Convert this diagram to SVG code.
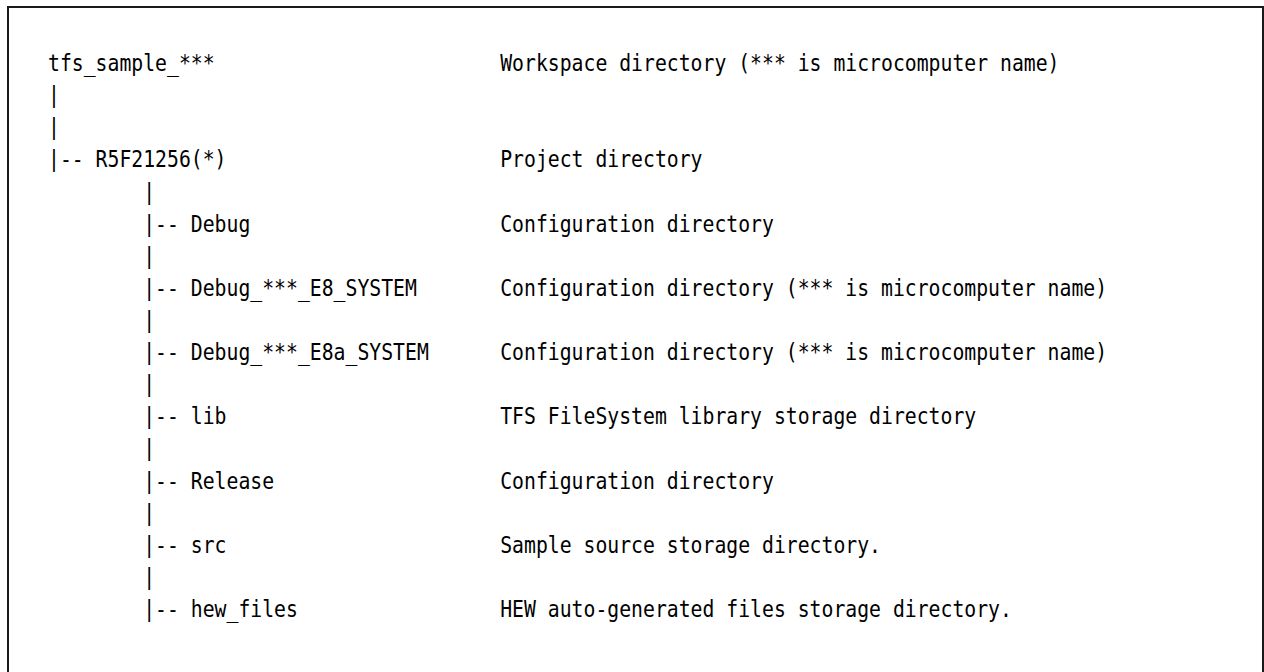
<svg xmlns="http://www.w3.org/2000/svg" width="1264" height="672" viewBox="0 0 1264 672">
<style>
  text { font-family: "DejaVu Sans Mono", "Liberation Mono", monospace; font-size: 23.5px; fill: #000; white-space: pre; }
  .frame { fill: #fff; stroke: #1a1a1a; stroke-width: 2; }
</style>
<rect x="0" y="0" width="1264" height="672" fill="#fff"/>
<rect class="frame" x="8" y="7" width="1255" height="700"/>
<g id="connectors">
  <text x="48" y="103.1" textLength="11.9" lengthAdjust="spacingAndGlyphs">|</text>
  <text x="48" y="135.2" textLength="11.9" lengthAdjust="spacingAndGlyphs">|</text>
  <text x="48" y="167.4" textLength="35.7" lengthAdjust="spacingAndGlyphs">|--</text>
  <text x="143.2" y="199.5" textLength="11.9" lengthAdjust="spacingAndGlyphs">|</text>
  <text x="143.2" y="231.6" textLength="35.7" lengthAdjust="spacingAndGlyphs">|--</text>
  <text x="143.2" y="263.7" textLength="11.9" lengthAdjust="spacingAndGlyphs">|</text>
  <text x="143.2" y="295.8" textLength="35.7" lengthAdjust="spacingAndGlyphs">|--</text>
  <text x="143.2" y="328" textLength="11.9" lengthAdjust="spacingAndGlyphs">|</text>
  <text x="143.2" y="360.1" textLength="35.7" lengthAdjust="spacingAndGlyphs">|--</text>
  <text x="143.2" y="392.2" textLength="11.9" lengthAdjust="spacingAndGlyphs">|</text>
  <text x="143.2" y="424.3" textLength="35.7" lengthAdjust="spacingAndGlyphs">|--</text>
  <text x="143.2" y="456.4" textLength="11.9" lengthAdjust="spacingAndGlyphs">|</text>
  <text x="143.2" y="488.6" textLength="35.7" lengthAdjust="spacingAndGlyphs">|--</text>
  <text x="143.2" y="520.7" textLength="11.9" lengthAdjust="spacingAndGlyphs">|</text>
  <text x="143.2" y="552.8" textLength="35.7" lengthAdjust="spacingAndGlyphs">|--</text>
  <text x="143.2" y="584.9" textLength="11.9" lengthAdjust="spacingAndGlyphs">|</text>
  <text x="143.2" y="617" textLength="35.7" lengthAdjust="spacingAndGlyphs">|--</text>
</g>
<g id="node-workspace">
  <text x="48" y="71" textLength="166.6" lengthAdjust="spacingAndGlyphs">tfs_sample_***</text>
  <text x="500.2" y="71" textLength="559.3" lengthAdjust="spacingAndGlyphs">Workspace directory (*** is microcomputer name)</text>
</g>
<g id="node-project">
  <text x="95.6" y="167.4" textLength="130.9" lengthAdjust="spacingAndGlyphs">R5F21256(*)</text>
  <text x="500.2" y="167.4" textLength="202.3" lengthAdjust="spacingAndGlyphs">Project directory</text>
</g>
<g id="node-debug">
  <text x="190.8" y="231.6" textLength="59.5" lengthAdjust="spacingAndGlyphs">Debug</text>
  <text x="500.2" y="231.6" textLength="273.7" lengthAdjust="spacingAndGlyphs">Configuration directory</text>
</g>
<g id="node-debug-e8">
  <text x="190.8" y="295.8" textLength="226.1" lengthAdjust="spacingAndGlyphs">Debug_***_E8_SYSTEM</text>
  <text x="500.2" y="295.8" textLength="606.9" lengthAdjust="spacingAndGlyphs">Configuration directory (*** is microcomputer name)</text>
</g>
<g id="node-debug-e8a">
  <text x="190.8" y="360.1" textLength="238" lengthAdjust="spacingAndGlyphs">Debug_***_E8a_SYSTEM</text>
  <text x="500.2" y="360.1" textLength="606.9" lengthAdjust="spacingAndGlyphs">Configuration directory (*** is microcomputer name)</text>
</g>
<g id="node-lib">
  <text x="190.8" y="424.3" textLength="35.7" lengthAdjust="spacingAndGlyphs">lib</text>
  <text x="500.2" y="424.3" textLength="476" lengthAdjust="spacingAndGlyphs">TFS FileSystem library storage directory</text>
</g>
<g id="node-release">
  <text x="190.8" y="488.6" textLength="83.3" lengthAdjust="spacingAndGlyphs">Release</text>
  <text x="500.2" y="488.6" textLength="273.7" lengthAdjust="spacingAndGlyphs">Configuration directory</text>
</g>
<g id="node-src">
  <text x="190.8" y="552.8" textLength="35.7" lengthAdjust="spacingAndGlyphs">src</text>
  <text x="500.2" y="552.8" textLength="380.8" lengthAdjust="spacingAndGlyphs">Sample source storage directory.</text>
</g>
<g id="node-hew-files">
  <text x="190.8" y="617" textLength="107.1" lengthAdjust="spacingAndGlyphs">hew_files</text>
  <text x="500.2" y="617" textLength="511.7" lengthAdjust="spacingAndGlyphs">HEW auto-generated files storage directory.</text>
</g>
</svg>
